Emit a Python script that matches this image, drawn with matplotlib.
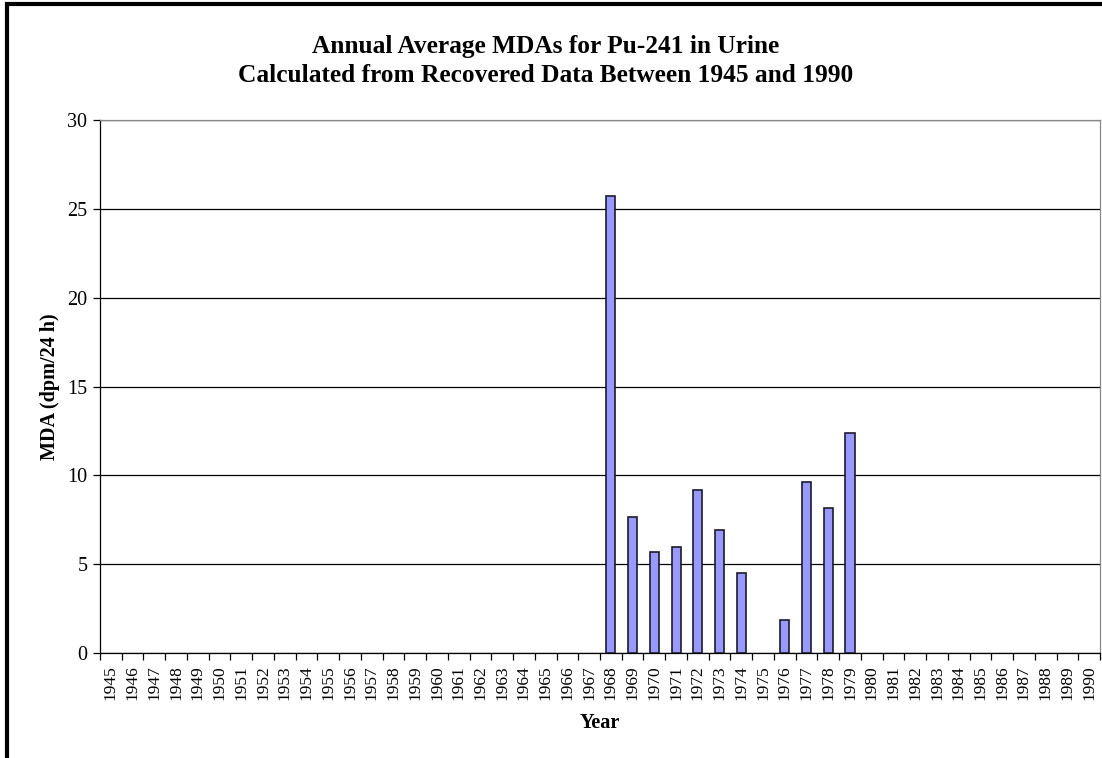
import numpy as np
import matplotlib
matplotlib.use('Agg')
import matplotlib.pyplot as plt
from matplotlib.patches import Rectangle

# years on the axis
years = list(range(1945, 1991))
# years that have a value, and the annual average MDA (dpm/24 h)
data_years = [1968, 1969, 1970, 1971, 1972, 1973, 1974, 1976, 1977, 1978, 1979]
mda = [25.75, 7.66, 5.67, 5.99, 9.17, 6.95, 4.53, 1.83, 9.64, 8.16, 12.39]
yticks = [0, 5, 10, 15, 20, 25, 30]

plt.rcParams['font.family'] = 'Liberation Serif'

fig = plt.figure(figsize=(11.02, 7.58), dpi=100)
ax = fig.add_axes([100/1102, 1 - 653/758, 1000/1102, 533/758])

x_pos = [years.index(y) for y in data_years]
ax.bar(x_pos, mda, width=0.42, color='#9999FF', edgecolor='#1a1a2e',
       linewidth=1.2, zorder=3)

ax.set_xlim(-0.5, len(years) - 0.5)
ax.set_ylim(0, 30)
ax.set_yticks(yticks)
ax.set_yticklabels([str(v) for v in yticks], fontsize=14.5)
ax.yaxis.grid(True, color='black', linewidth=0.9)
ax.set_axisbelow(True)

ax.set_xticks(range(len(years)))
ax.set_xticklabels([str(y) for y in years], rotation=90, fontsize=12.5)
ax.tick_params(axis='x', length=0, pad=9)
ax.set_xticks(np.arange(-0.5, len(years)), minor=True)
ax.tick_params(axis='x', which='minor', length=5, direction='out', width=0.9)
ax.tick_params(axis='y', length=5, direction='out', width=0.9, pad=4)

for s in ['top', 'right']:
    ax.spines[s].set_color('#888888')
    ax.spines[s].set_linewidth(0.9)
for s in ['left', 'bottom']:
    ax.spines[s].set_color('black')
    ax.spines[s].set_linewidth(0.9)

ax.set_xlabel('Year', fontsize=14.5, fontweight='bold', labelpad=9)
ax.set_ylabel('MDA (dpm/24 h)', fontsize=14.5, fontweight='bold', labelpad=5)

fig.text(0.495, 1 - 47/758, 'Annual Average MDAs for Pu-241 in Urine',
         ha='center', va='center', fontsize=18.3, fontweight='bold')
fig.text(0.495, 1 - 75/758, 'Calculated from Recovered Data Between 1945 and 1990',
         ha='center', va='center', fontsize=18.3, fontweight='bold')

# outer chart frame (only left and top edges fall inside the picture)
fig.patches.append(Rectangle((6.5/1102, -0.1), 1.2, 1 - 4.5/758 + 0.1,
                             transform=fig.transFigure, fill=False,
                             edgecolor='black', linewidth=3))

fig.savefig('out.png', dpi=100)
